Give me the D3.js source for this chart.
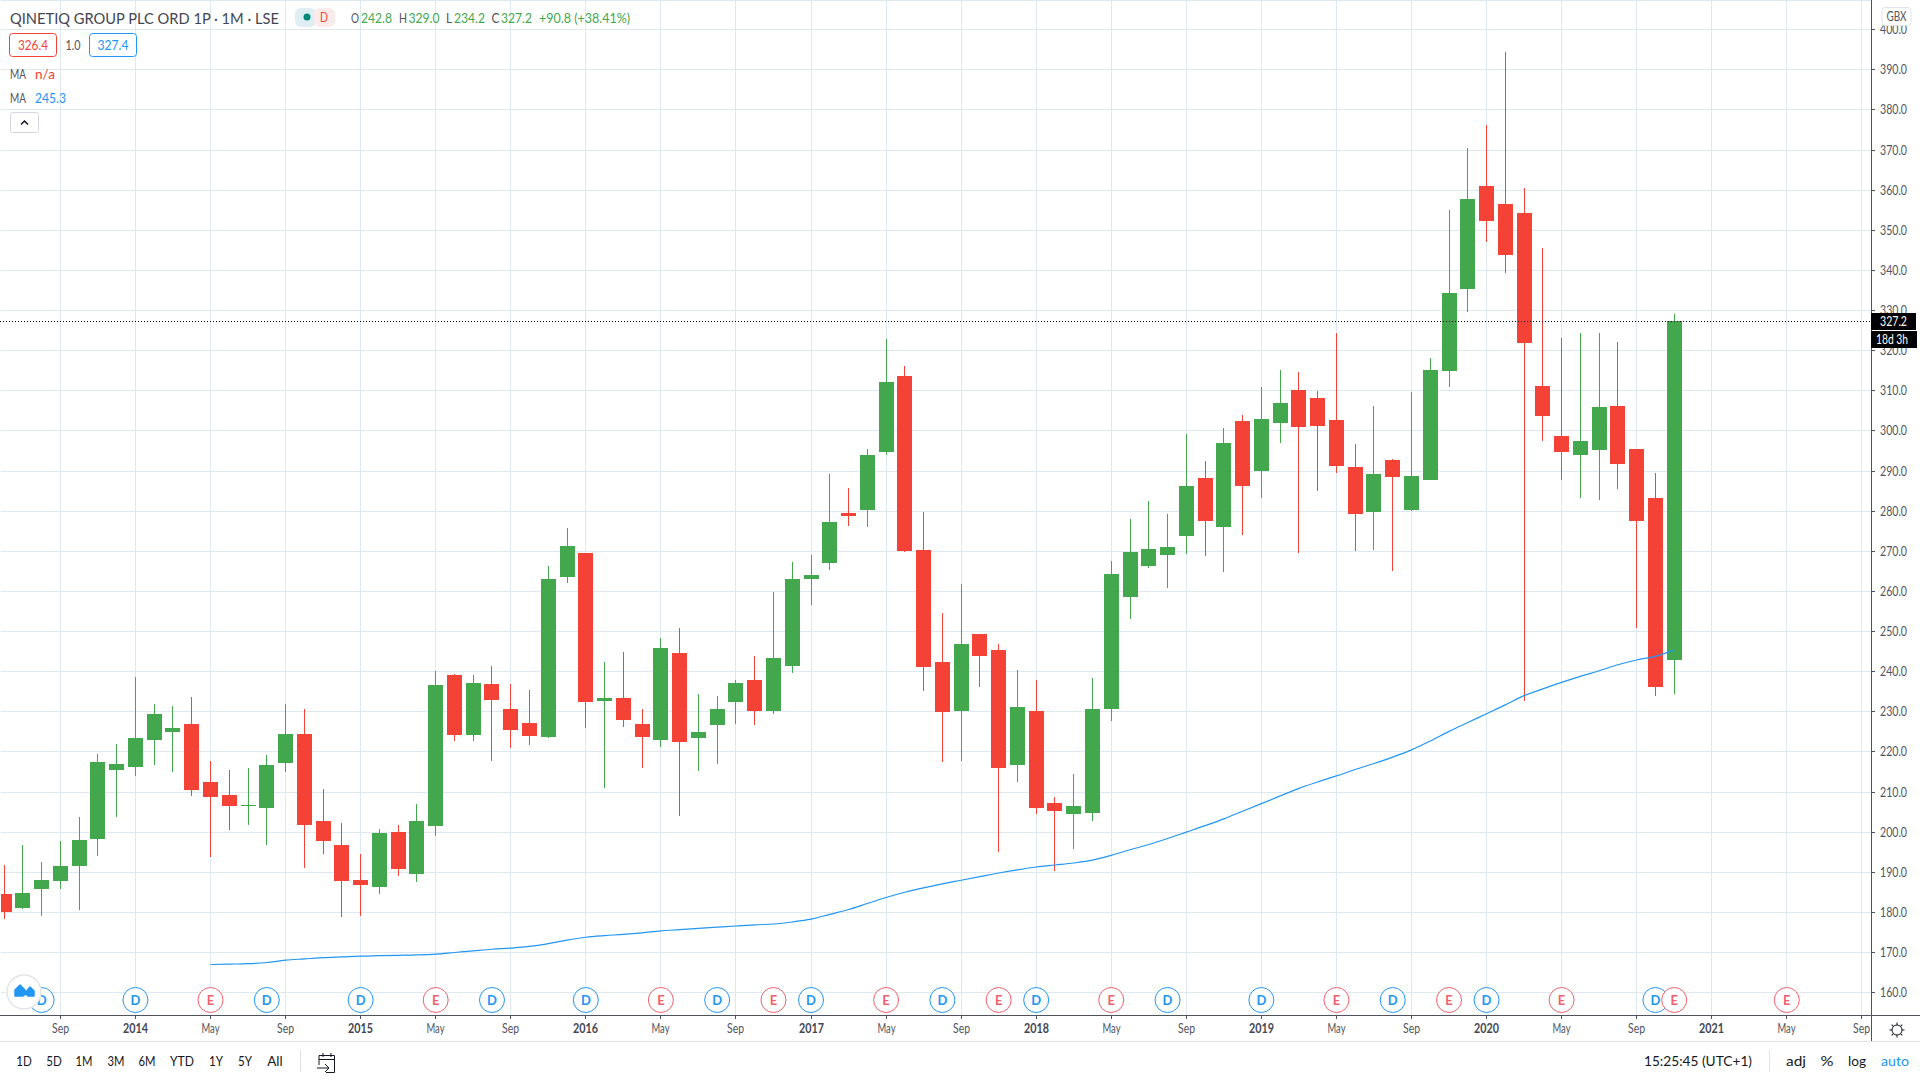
<!DOCTYPE html>
<html>
<head>
<meta charset="utf-8">
<script src="https://cdn.jsdelivr.net/npm/d3@7"></script>
<style>
  body { margin: 0; background: #fff; overflow: hidden; }
  text { font-family: Lato, "Liberation Sans", sans-serif; }
  .axis text { font-size: 13px; fill: #50535e; }
  .axis line { stroke: #50535e; }
  .axis path { display: none; }
</style>
</head>
<body>
<div id="chart"></div>
<script>
// monthly candles, first bar is Jun 2013
var opens = [184.5,181,185.8,187.8,191.5,198.2,215.4,216.2,222.9,224.9,226.9,212.4,209.2,206.4,205.9,217.2,224.4,202.7,196.7,188,186.3,200,189.5,201.5,239.1,224.1,236.7,230.7,227,223.5,263.4,269.4,232.5,233.2,226.8,222.8,244.5,223.3,226.5,232.2,237.7,230.2,241.2,262.9,267,279.5,280.2,294.7,313.6,270.3,242.2,230.2,249.2,245.4,216.5,230,207.1,204.3,204.6,230.7,258.5,266.3,269,273.7,288.2,276,302.4,289.9,301.9,310.1,308.1,302.6,290.9,279.7,292.7,280.2,287.7,314.9,335.3,360.9,356.4,354.2,311.1,298.7,293.9,295.2,306.1,295.4,283.2,242.8];
var highs = [191.7,196.7,192.5,197.7,203.7,219.4,221.9,238.6,231.9,231.4,233.6,217.7,215.4,215.9,219.2,231.9,230.6,210.7,202.2,194.5,200.7,201.7,206.9,240.1,239.2,239.1,241.2,236.7,235.2,266.1,275.8,269.5,242.2,244.7,230.5,248.2,250.7,234.2,233.7,237.7,243.7,259.7,267.1,268.9,289.2,285.7,295.4,322.8,316.1,279.6,254.4,261.8,249.3,246.9,240.4,237.7,208.6,214.3,238.2,267.5,278,282.5,279.3,299.2,292.4,300.6,303.9,310.9,315.1,314.6,309.9,324.3,296.7,306.1,292.8,309.6,318.1,355,370.4,376.1,394.3,360.4,345.5,323.1,324.3,324.3,322.1,295.5,289.4,329];
var lows = [178.3,180.8,179,185.8,180.5,194,203.7,213.9,216.7,214.9,208.9,193.7,200.5,201.7,196.7,214.9,191,194.5,178.8,179,184.5,189,187.5,199,222.6,222.6,217.5,220.8,221.5,223.3,262.1,225.8,210.8,226,216,221,204,215.1,216.8,226.8,226.5,229.3,239.5,256.4,265.3,276.2,276,293.9,269.8,235,217.3,217.5,236,194.9,212.5,204.3,190.1,195.8,202.6,227.7,252.9,265.8,260.8,269.3,268.8,264.8,274,283.2,296.9,269.5,285,289.4,270,270.2,265,280,287.6,310.9,329.5,347,339.3,232.6,297.4,287.7,283.2,282.7,285.4,250.8,233.9,234.2];
var closes = [180,184.8,188,191.5,198,217.4,216.9,223.4,229.4,225.9,210.4,208.7,206.4,206.7,216.7,224.4,201.7,197.7,187.8,186.8,199.7,190.7,202.7,236.6,224.1,237.1,232.7,225.3,223.8,263.1,271.1,232.2,233.2,227.8,223.5,245.9,222.3,224.8,230.5,237,230,243.2,262.9,263.9,277.2,278.7,293.9,312.1,270,241,229.8,246.9,243.9,216,231.2,205.8,205.1,206.3,230.5,264.3,269.8,270.5,271,286.2,277.5,296.9,286.2,302.9,306.9,300.9,301.1,291.2,279.2,289.2,288.4,288.7,315.1,334.3,357.7,352.2,343.7,321.8,303.6,294.7,297.4,305.9,291.7,277.5,236.1,327.2];

// moving average, starts on bar 11
var maStart = 11;
var maValues = [166.9,167,167.1,167.4,168,168.3,168.6,168.8,169,169.1,169.2,169.3,169.5,169.9,170.3,170.7,171,171.4,172.1,173,173.7,174.1,174.4,174.8,175.3,175.6,175.9,176.2,176.5,176.8,177,177.5,178.2,179.4,180.6,182.1,183.6,184.9,186,187,187.9,188.8,189.7,190.5,191.2,191.7,192.2,192.9,194.1,195.5,196.8,198.3,199.9,201.5,203.2,205.1,207,208.9,210.8,212.4,213.9,215.5,217,218.6,220.4,222.6,225,227.2,229.4,231.6,233.9,235.6,237.2,238.7,240.1,241.6,242.8,243.7,245.3];

var priceTicks = d3.range(160, 401, 10);
var monthTicks = d3.range(3, 100, 4);
var monthLabels = ["Sep","2014","May","Sep","2015","May","Sep","2016","May","Sep","2017","May","Sep","2018","May","Sep","2019","May","Sep","2020","May","Sep","2021","May","Sep"];

var dividendBars = [2,7,14,19,26,31,38,43,50,55,62,67,74,79,88];
var earningsBars = [11,23,35,41,47,53,59,71,77,83,89,95];

var rangeButtons = ["1D","5D","1M","3M","6M","YTD","1Y","5Y","All"];
var rangeButtonX = [24,54,84,116,147,182,216,245,275];
var rangeButtonW = [15.5,15.5,17,17,17,24,14,14,15.5];
var scaleButtons = ["adj","%","log","auto"];
var scaleButtonX = [1796,1827,1857,1895];
var scaleButtonW = [20,13,18,28];

var svgWidth = 1920;
var svgHeight = 1080;
var axisX = 1871;
var axisY = 1015;
var green = "#43a74e";
var red = "#f44336";
var blue = "#2196f3";
var markerRed = "#f0616d";
var ink = "#50535e";

var svg = d3.select("#chart").append("svg")
  .attr("width", svgWidth)
  .attr("height", svgHeight)
  .style("display", "block");

// whole pixels for bars, grid and ticks, plain numbers for the MA line
var x = d3.scaleLinear().domain([0, 89]).range([4.1, 1674.2])
  .interpolate((a, b) => t => Math.floor(a + (b - a) * t));
var y = d3.scaleLinear().domain([160, 400]).rangeRound([992.2, 29.2]);
var xLine = x.copy().interpolate(d3.interpolateNumber);
var yLine = y.copy().interpolate(d3.interpolateNumber);

// grid
var grid = svg.append("g").attr("stroke", "#dde8f0").attr("shape-rendering", "crispEdges");
grid.selectAll(".h").data(priceTicks).enter().append("line")
  .attr("x1", 1).attr("x2", axisX)
  .attr("y1", d => y(d) + 0.5).attr("y2", d => y(d) + 0.5);
grid.selectAll(".v").data(monthTicks).enter().append("line")
  .attr("y1", 0).attr("y2", axisY)
  .attr("x1", d => x(d) + 0.5).attr("x2", d => x(d) + 0.5);
grid.append("line").attr("x1", 0).attr("x2", axisX).attr("y1", 0.5).attr("y2", 0.5);

// candles
var bars = svg.append("g").attr("shape-rendering", "crispEdges")
  .selectAll("g").data(d3.range(opens.length)).enter().append("g")
  .attr("fill", i => closes[i] >= opens[i] ? green : red);
bars.append("rect")
  .attr("x", i => x(i))
  .attr("width", 1)
  .attr("y", i => y(highs[i]))
  .attr("height", i => y(lows[i]) - y(highs[i]));
bars.append("rect")
  .attr("x", i => x(i) - 7)
  .attr("width", 15)
  .attr("y", i => y(Math.max(opens[i], closes[i])))
  .attr("height", i => Math.max(1, y(Math.min(opens[i], closes[i])) - y(Math.max(opens[i], closes[i]))));

// left edge of the pane stays white
svg.append("rect").attr("width", 1).attr("height", axisY).attr("fill", "#fff");

// moving average
var maLine = d3.line()
  .x((d, i) => xLine(i + maStart))
  .y(d => yLine(d))
  .curve(d3.curveMonotoneX);
svg.append("path").datum(maValues)
  .attr("d", maLine)
  .attr("fill", "none")
  .attr("stroke", blue)
  .attr("stroke-width", 1.2);

// last price line
svg.append("line")
  .attr("x1", 0).attr("x2", axisX)
  .attr("y1", y(327.2) + 0.5).attr("y2", y(327.2) + 0.5)
  .attr("stroke", "#000")
  .attr("stroke-dasharray", "1 2");

// dividend and earnings flags
function drawFlags(bars, letter, color) {
  var flag = svg.append("g").selectAll("g").data(bars).enter().append("g")
    .attr("transform", d => `translate(${xLine(d)}, 1000)`);
  flag.append("circle").attr("r", 12.5).attr("fill", "#fff").attr("stroke", color).attr("stroke-width", 1);
  flag.append("text").text(letter)
    .attr("text-anchor", "middle").attr("y", 4.7)
    .attr("fill", color).attr("font-size", 13).attr("font-weight", "bold");
}
drawFlags(dividendBars, "D", blue);
drawFlags(earningsBars, "E", markerRed);

// logo bubble over the first flag
svg.append("circle").attr("cx", 24).attr("cy", 992).attr("r", 17)
  .attr("fill", "#fff").attr("stroke", "#e4e4e4").attr("stroke-width", 1.5);
svg.append("path")
  .attr("d", "M15 996 L15 990 L20 985 L24 989 L26 992 L30 987 L34 991 L34 996 L28 996 L26 994 L23 996 Z")
  .attr("fill", blue).attr("stroke", blue).attr("stroke-width", 1.5).attr("stroke-linejoin", "round");

// narrow a text to the width it has in the picture
function fit(sel, w) {
  return sel.attr("textLength", w).attr("lengthAdjust", "spacingAndGlyphs");
}

// axes
var rightAxis = d3.axisRight(y).tickValues(priceTicks).tickFormat(d3.format(".1f")).tickSize(4).tickPadding(5);
var yAxisGroup = svg.append("g").attr("class", "axis").attr("transform", `translate(${axisX}, 0)`).call(rightAxis);
fit(yAxisGroup.selectAll("text"), 27);

var bottomAxis = d3.axisBottom(x).tickValues(monthTicks)
  .tickFormat((d, i) => monthLabels[i]).tickSize(4).tickPadding(5);
var xAxisGroup = svg.append("g").attr("class", "axis").attr("transform", `translate(0, ${axisY})`).call(bottomAxis);
xAxisGroup.selectAll("text")
  .attr("textLength", (d, i) => monthLabels[i] === "May" ? 18 : monthLabels[i] === "Sep" ? 17 : 25)
  .attr("lengthAdjust", "spacingAndGlyphs");
xAxisGroup.selectAll("text")
  .filter((d, i) => /^\d+$/.test(monthLabels[i]))
  .style("font-weight", "bold")
  .style("fill", "#434651");

var frame = svg.append("g").attr("shape-rendering", "crispEdges");
frame.append("line").attr("x1", axisX + 0.5).attr("x2", axisX + 0.5).attr("y1", 0).attr("y2", 1041).attr("stroke", ink);
frame.append("line").attr("x1", 0).attr("x2", svgWidth).attr("y1", axisY + 0.5).attr("y2", axisY + 0.5).attr("stroke", ink);
frame.append("line").attr("x1", 0).attr("x2", svgWidth).attr("y1", 1041.5).attr("y2", 1041.5).attr("stroke", "#e0e3eb");
frame.append("line").attr("x1", 300.5).attr("x2", 300.5).attr("y1", 1050).attr("y2", 1072).attr("stroke", "#e0e3eb");
frame.append("line").attr("x1", 1769.5).attr("x2", 1769.5).attr("y1", 1050).attr("y2", 1072).attr("stroke", "#e0e3eb");

// price and countdown labels on the axis
function axisTag(top, h, w, str, textX, textW) {
  svg.append("rect").attr("x", axisX).attr("y", top).attr("width", w).attr("height", h).attr("fill", "#000");
  fit(svg.append("text").text(str).attr("x", textX).attr("y", top + h / 2 + 4.5)
    .attr("fill", "#fff").attr("font-size", 13), textW);
}
axisTag(313, 17, 45, "327.2", 1880, 27);
axisTag(331, 17, 46, "18d 3h", 1876, 32);

// currency box
svg.append("rect").attr("x", 1882).attr("y", 7.5).attr("width", 29).attr("height", 18).attr("rx", 3)
  .attr("fill", "#fff").attr("stroke", "#e0e3eb");
fit(svg.append("text").text("GBX").attr("x", 1896.5).attr("y", 21).attr("text-anchor", "middle")
  .attr("font-size", 13).attr("fill", ink), 20);

// gear
var gear = svg.append("g").attr("transform", "translate(1897, 1030)").attr("stroke", "#131722").attr("fill", "none");
gear.append("circle").attr("r", 5);
gear.selectAll("line").data(d3.range(0, 360, 45)).enter().append("line")
  .attr("y1", -5).attr("y2", -7.5).attr("transform", d => `rotate(${d})`);

// header text
function label(str, lx, ly, size, color, w, anchor) {
  return fit(svg.append("text").text(str).attr("x", lx).attr("y", ly)
    .attr("font-size", size).attr("fill", color).attr("text-anchor", anchor || "start"), w);
}
label("QINETIQ GROUP PLC ORD 1P · 1M · LSE", 10, 23.5, 16, "#434651", 269);

svg.append("rect").attr("x", 295).attr("y", 8).attr("width", 21).attr("height", 19).attr("rx", 6).attr("fill", "#dfeef2");
svg.append("rect").attr("x", 314).attr("y", 8).attr("width", 21).attr("height", 19).attr("rx", 6).attr("fill", "#fdeaea");
svg.append("circle").attr("cx", 307).attr("cy", 17).attr("r", 3.5).attr("fill", "#00897b");
label("D", 324, 22, 13, red, 8, "middle");

var ohlcLabels = ["O", "H", "L", "C"];
var ohlcValues = ["242.8", "329.0", "234.2", "327.2"];
var ohlcX = [351, 399, 446, 491.5];
var ohlcValueX = [361, 408.5, 454, 501];
ohlcLabels.forEach(function(s, i) {
  label(s, ohlcX[i], 22.5, 13.5, ink, s === "L" ? 6 : 8);
  label(ohlcValues[i], ohlcValueX[i], 22.5, 13.5, green, 31);
});
label("+90.8 (+38.41%)", 539, 22.5, 13.5, green, 91);

// bid / ask boxes
svg.append("rect").attr("x", 9.5).attr("y", 33.5).attr("width", 47).attr("height", 23).attr("rx", 3)
  .attr("fill", "#fff").attr("stroke", red);
label("326.4", 33, 50, 13.5, red, 30, "middle");
label("1.0", 73, 50, 13, ink, 15, "middle");
svg.append("rect").attr("x", 89.5).attr("y", 33.5).attr("width", 47).attr("height", 23).attr("rx", 3)
  .attr("fill", "#fff").attr("stroke", blue);
label("327.4", 113, 50, 13.5, blue, 31, "middle");

label("MA", 10, 79, 13.5, ink, 16);
label("n/a", 35, 79, 13.5, red, 20);
label("MA", 10, 103, 13.5, ink, 16);
label("245.3", 35, 103, 13.5, blue, 31);

// collapse button
svg.append("rect").attr("x", 10.5).attr("y", 112.5).attr("width", 28).attr("height", 20).attr("rx", 2)
  .attr("fill", "#fff").attr("stroke", "#d6d8e0");
svg.append("path").attr("d", "M21 124.5 L24.5 121 L28 124.5").attr("fill", "none").attr("stroke", "#131722").attr("stroke-width", 1.5);

// bottom toolbar
rangeButtons.forEach(function(s, i) {
  label(s, rangeButtonX[i], 1066, 13.5, "#131722", rangeButtonW[i], "middle");
});
var cal = svg.append("g").attr("fill", "none").attr("stroke", "#131722").attr("stroke-width", 1);
cal.append("path").attr("d", "M319 1065 L319 1055.5 L334.5 1055.5 L334.5 1072.5 L326 1072.5");
cal.append("path").attr("d", "M319 1059.5 L334.5 1059.5 M323 1053 L323 1057 M331 1053 L331 1057");
cal.append("path").attr("d", "M317 1068 L329 1068 M325 1064 L329 1068 L325 1072");
label("15:25:45 (UTC+1)", 1698, 1066, 14, "#131722", 108, "middle");
scaleButtons.forEach(function(s, i) {
  label(s, scaleButtonX[i], 1066, 14, s === "auto" ? blue : "#131722", scaleButtonW[i], "middle");
});
</script>
</body>
</html>
